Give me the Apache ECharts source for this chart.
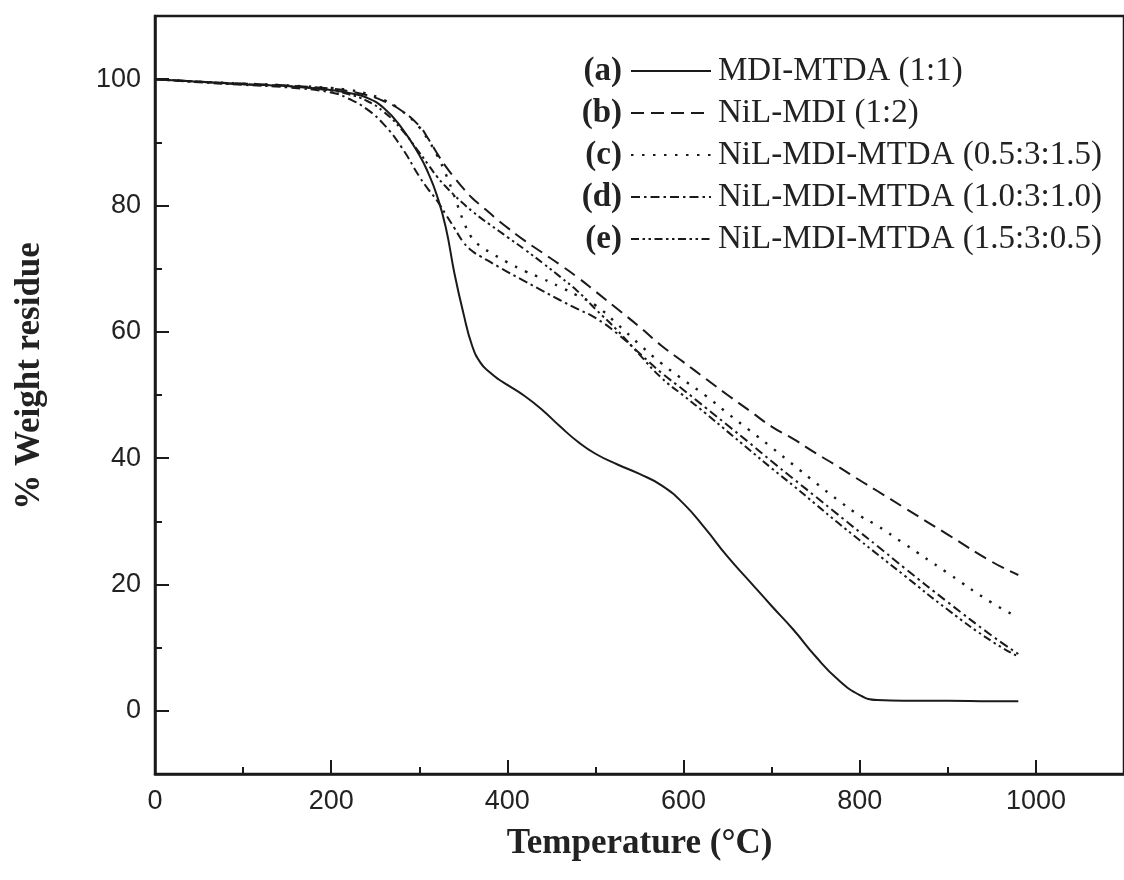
<!DOCTYPE html>
<html>
<head>
<meta charset="utf-8">
<title>TGA curves</title>
<script src="https://cdn.jsdelivr.net/npm/echarts@6/dist/echarts.min.js"></script>
<style>
  html, body { margin: 0; padding: 0; background: #ffffff; }
  #chart { width: 1124px; height: 880px; }
</style>
</head>
<body>
<div id="chart"></div>
<script>
// Temperature sampling points (°C)
const temperature = [0, 50, 100, 150, 200, 220, 240, 260, 280, 300, 310, 320, 330, 340, 350, 360, 370, 380, 390, 400, 420, 440, 460, 480, 500, 525, 550, 575, 600, 625, 650, 675, 700, 725, 750, 775, 800, 820, 850, 900, 950, 980];

// % weight residue for each sample
const mdiMtda = [100, 99.6, 99.2, 98.9, 98.3, 97.8, 97.1, 95.4, 92.3, 88.0, 85.2, 81.6, 76.6, 69.2, 63.0, 57.8, 55.0, 53.6, 52.5, 51.6, 49.8, 47.6, 45.0, 42.6, 40.7, 39.0, 37.5, 35.7, 32.8, 28.8, 24.4, 20.5, 16.6, 12.8, 8.6, 5.0, 2.5, 1.7, 1.6, 1.6, 1.5, 1.5];
const nilMdi = [100, 99.6, 99.3, 99.0, 98.5, 98.1, 97.5, 96.5, 95.0, 92.6, 90.6, 88.3, 86.2, 84.4, 82.7, 81.2, 80.0, 78.8, 77.6, 76.5, 74.4, 72.5, 70.6, 68.6, 66.4, 63.6, 60.8, 57.8, 55.2, 52.6, 50.0, 47.5, 45.0, 43.0, 40.8, 38.7, 36.5, 34.8, 32.2, 27.9, 23.6, 21.5];
const nilMdiMtda05 = [100, 99.6, 99.3, 99.0, 98.6, 98.3, 97.7, 96.7, 95.0, 92.4, 90.4, 88.0, 85.0, 81.4, 77.6, 74.8, 73.5, 72.6, 71.8, 71.0, 69.6, 68.4, 67.1, 65.7, 64.2, 61.2, 58.0, 55.0, 52.4, 49.9, 47.1, 44.4, 41.7, 38.9, 36.1, 33.4, 30.9, 29.3, 26.5, 21.8, 17.1, 14.8];
const nilMdiMtda10 = [100, 99.5, 99.1, 98.7, 97.9, 96.9, 95.3, 92.8, 89.2, 84.6, 82.6, 80.8, 78.6, 76.4, 74.2, 72.8, 71.9, 71.1, 70.3, 69.5, 68.0, 66.5, 65.0, 63.6, 62.2, 59.7, 56.6, 53.5, 50.8, 48.0, 45.2, 42.4, 39.5, 36.7, 33.9, 31.1, 28.3, 26.1, 22.7, 17.2, 11.9, 9.0];
const nilMdiMtda15 = [100, 99.6, 99.2, 98.9, 98.2, 97.6, 96.6, 94.8, 92.0, 88.4, 86.5, 84.6, 83.0, 81.6, 80.3, 79.1, 78.0, 77.0, 76.0, 75.0, 73.0, 70.9, 68.7, 66.4, 63.6, 60.2, 56.4, 52.7, 49.9, 47.1, 44.2, 41.3, 38.4, 35.6, 32.7, 29.8, 27.0, 24.8, 21.5, 16.0, 11.0, 8.6];

// Series names and their letter tags
const seriesNames = ['MDI-MTDA (1:1)', 'NiL-MDI (1:2)', 'NiL-MDI-MTDA (0.5:3:1.5)', 'NiL-MDI-MTDA (1.0:3:1.0)', 'NiL-MDI-MTDA (1.5:3:0.5)'];
const seriesTags = ['(a)', '(b)', '(c)', '(d)', '(e)'];
const seriesValues = [mdiMtda, nilMdi, nilMdiMtda05, nilMdiMtda10, nilMdiMtda15];

// Tick positions
const xMajorTicks = [0, 200, 400, 600, 800, 1000];
const xMinorTicks = [100, 300, 500, 700, 900];
const yMajorTicks = [0, 20, 40, 60, 80, 100];
const yMinorTicks = [10, 30, 50, 70, 90];

const INK = '#1a1a1a';
const dashPatterns = ['solid', [13, 7], [2.5, 8.5], [9, 4, 2.5, 4], [8, 3.5, 2.5, 3.5, 2.5, 3.5]];
const lineWidths = [2, 2, 2.4, 2, 2];

const chart = echarts.init(document.getElementById('chart'), null, { renderer: 'canvas' });

const legendTop = 49;
const rowPitch = 42;
const legendFont = 33;

const tickLabel = {
  fontFamily: 'Liberation Sans', fontSize: 27, color: '#222', margin: 14,
  formatter: (v) => String(v)
};
const titleText = { fontFamily: 'Liberation Serif', fontWeight: 'bold', fontSize: 35, color: '#222' };

const option = {
  backgroundColor: '#ffffff',
  animation: false,
  grid: {
    left: 155, top: 16, width: 973, height: 758,
    show: true, borderColor: INK, borderWidth: 2.5, backgroundColor: 'transparent'
  },
  xAxis: [
    {
      type: 'value', min: 0, max: 1100, position: 'bottom',
      axisLine: { show: true, onZero: false, lineStyle: { color: INK, width: 2.5 } },
      axisTick: { show: true, inside: true, length: 14, customValues: xMajorTicks, lineStyle: { color: INK, width: 2 } },
      axisLabel: Object.assign({ show: true, customValues: xMajorTicks }, tickLabel),
      splitLine: { show: false },
      name: 'Temperature (°C)', nameLocation: 'middle', nameGap: 52,
      nameTextStyle: titleText
    },
    {
      type: 'value', min: 0, max: 1100, position: 'bottom',
      axisLine: { show: false, onZero: false },
      axisTick: { show: true, inside: true, length: 7, customValues: xMinorTicks, lineStyle: { color: INK, width: 2 } },
      axisLabel: { show: false },
      splitLine: { show: false }
    }
  ],
  yAxis: [
    {
      type: 'value', min: -10, max: 110, position: 'left',
      axisLine: { show: true, onZero: false, lineStyle: { color: INK, width: 2.5 } },
      axisTick: { show: true, inside: true, length: 14, customValues: yMajorTicks, lineStyle: { color: INK, width: 2 } },
      axisLabel: Object.assign({ show: true, customValues: yMajorTicks }, tickLabel),
      splitLine: { show: false },
      name: '% Weight residue', nameLocation: 'middle', nameGap: 108, nameRotate: 90,
      nameTextStyle: Object.assign({ padding: [0, 0, 0, 38] }, titleText)
    },
    {
      type: 'value', min: -10, max: 110, position: 'left',
      axisLine: { show: false, onZero: false },
      axisTick: { show: true, inside: true, length: 7, customValues: yMinorTicks, lineStyle: { color: INK, width: 2 } },
      axisLabel: { show: false },
      splitLine: { show: false }
    }
  ],
  legend: {
    orient: 'vertical', left: 625, top: legendTop,
    itemWidth: 80, itemHeight: 20, itemGap: rowPitch - 34,
    selectedMode: false,
    data: seriesNames,
    itemStyle: { color: 'transparent', borderWidth: 0, opacity: 0 },
    textStyle: { fontFamily: 'Liberation Serif', fontSize: legendFont, lineHeight: 34, color: '#222', padding: [0, 0, 0, 2] }
  },
  graphic: seriesTags.map((tag, i) => ({
    type: 'text',
    right: 1124 - 622,
    top: legendTop + i * rowPitch + 6,
    style: {
      text: tag, fill: '#222',
      font: 'bold 33px "Liberation Serif"'
    }
  })),
  series: seriesNames.map((name, i) => ({
    name: name,
    type: 'line',
    xAxisIndex: 0, yAxisIndex: 0,
    data: temperature.map((t, j) => [t, seriesValues[i][j]]),
    showSymbol: false, symbol: 'none',
    smooth: 0.5,
    lineStyle: { color: INK, width: lineWidths[i], type: dashPatterns[i] },
    itemStyle: { color: INK },
    emphasis: { disabled: true }
  }))
};

chart.setOption(option);
</script>
</body>
</html>
